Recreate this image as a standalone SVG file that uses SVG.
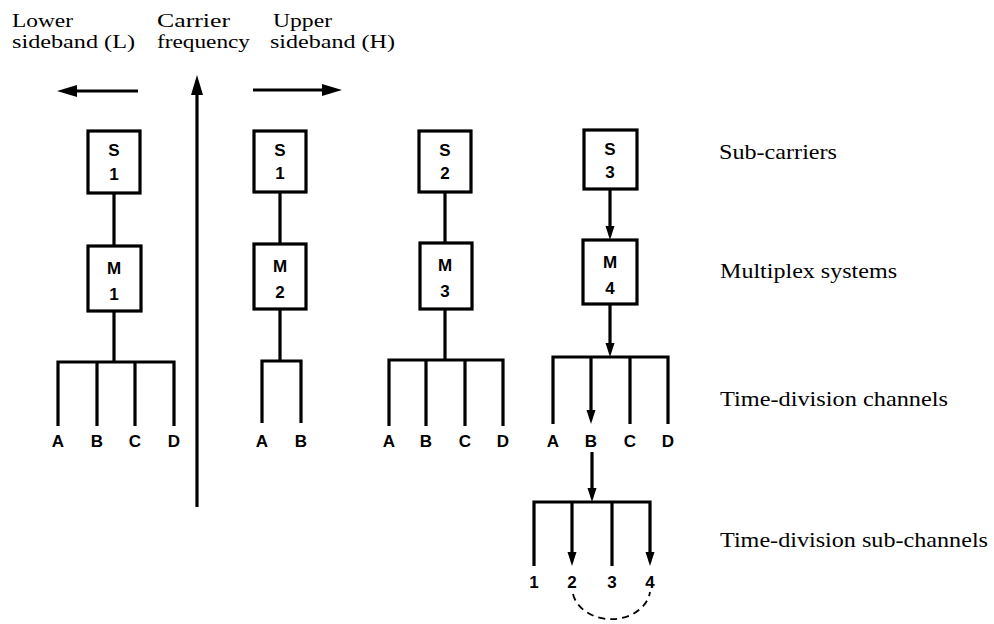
<svg xmlns="http://www.w3.org/2000/svg" width="994" height="624" viewBox="0 0 994 624">
  <style>
    .ln { fill: none; stroke: #000; stroke-width: 3.2; stroke-linejoin: miter; }
    .dash { fill: none; stroke: #000; stroke-width: 1.8; stroke-dasharray: 7 5; }
    .box { fill: #fff; stroke: #000; stroke-width: 3.2; }
    .bl { font-family: "Liberation Sans", Arial, sans-serif; font-weight: bold; font-size: 17px; text-anchor: middle; fill: #000; }
    .hd { font-family: "Liberation Serif", "Times New Roman", serif; font-size: 19px; fill: #000; }
    .rl { font-family: "Liberation Serif", "Times New Roman", serif; font-size: 22px; fill: #000; }
  </style>
  <defs>
    <marker id="arr" markerUnits="userSpaceOnUse" markerWidth="16" markerHeight="10" refX="6" refY="5" orient="auto">
      <path d="M0,0.5 L14,5 L0,9.5 z" fill="#000"/>
    </marker>
    <marker id="big" markerUnits="userSpaceOnUse" markerWidth="22" markerHeight="14" refX="8" refY="7" orient="auto">
      <path d="M0,1 L20,7 L0,13 z" fill="#000"/>
    </marker>
  </defs>

  <rect width="994" height="624" fill="#fff"/>

  <!-- heading labels -->
  <g id="headings">
    <text class="hd" x="12" y="27" textLength="61" lengthAdjust="spacingAndGlyphs">Lower</text>
    <text class="hd" x="12" y="48" textLength="123" lengthAdjust="spacingAndGlyphs">sideband (L)</text>
    <text class="hd" x="157" y="27" textLength="73" lengthAdjust="spacingAndGlyphs">Carrier</text>
    <text class="hd" x="157" y="48" textLength="93" lengthAdjust="spacingAndGlyphs">frequency</text>
    <text class="hd" x="273" y="27" textLength="59" lengthAdjust="spacingAndGlyphs">Upper</text>
    <text class="hd" x="270" y="48" textLength="125" lengthAdjust="spacingAndGlyphs">sideband (H)</text>
  </g>

  <!-- row labels -->
  <g id="row-labels">
    <text class="rl" x="719" y="159" textLength="118" lengthAdjust="spacingAndGlyphs">Sub-carriers</text>
    <text class="rl" x="720" y="278" textLength="177" lengthAdjust="spacingAndGlyphs">Multiplex systems</text>
    <text class="rl" x="720" y="406" textLength="228" lengthAdjust="spacingAndGlyphs">Time-division channels</text>
    <text class="rl" x="720" y="547" textLength="268" lengthAdjust="spacingAndGlyphs">Time-division sub-channels</text>
  </g>

  <!-- connectors -->
  <g id="connectors">
    <!-- frequency axis arrows -->
    <line class="ln" x1="197" y1="507" x2="197" y2="87" marker-end="url(#big)"/>
    <line class="ln" x1="138" y1="91" x2="69" y2="91" marker-end="url(#big)"/>
    <line class="ln" x1="253" y1="90" x2="330" y2="90" marker-end="url(#big)"/>

    <!-- column 1 -->
    <line class="ln" x1="114" y1="193" x2="114" y2="246"/>
    <line class="ln" x1="114" y1="311" x2="114" y2="362"/>
    <path class="ln" d="M58,426 V362 H174 V426 M97,362 V426 M135,362 V426"/>

    <!-- column 2 -->
    <line class="ln" x1="280" y1="192" x2="280" y2="244"/>
    <line class="ln" x1="280" y1="309" x2="280" y2="361"/>
    <path class="ln" d="M262,423 V361 H301 V423"/>

    <!-- column 3 -->
    <line class="ln" x1="445" y1="192" x2="445" y2="243"/>
    <line class="ln" x1="445" y1="309" x2="445" y2="360"/>
    <path class="ln" d="M389,426 V360 H503 V426 M426,360 V426 M465,360 V426"/>

    <!-- column 4 -->
    <line class="ln" x1="610" y1="189" x2="610" y2="232" marker-end="url(#arr)"/>
    <line class="ln" x1="610" y1="304" x2="610" y2="349" marker-end="url(#arr)"/>
    <path class="ln" d="M553,424 V357 H668 V424 M630,357 V424"/>
    <line class="ln" x1="591" y1="357" x2="591" y2="416" marker-end="url(#arr)"/>

    <!-- sub-channels of B -->
    <line class="ln" x1="592" y1="452" x2="592" y2="494" marker-end="url(#arr)"/>
    <path class="ln" d="M534,566 V502 H650 V558" marker-end="url(#arr)"/>
    <line class="ln" x1="572" y1="502" x2="572" y2="558" marker-end="url(#arr)"/>
    <line class="ln" x1="612" y1="502" x2="612" y2="566"/>
    <path class="dash" d="M573,594 A39 31 0 0 0 650,592"/>
  </g>

  <!-- sub-carrier nodes -->
  <g id="s1-left"><rect class="box" x="88" y="131" width="52" height="62"/><text class="bl" x="114" y="156">S</text><text class="bl" x="114" y="180">1</text></g>
  <g id="s1-right"><rect class="box" x="254" y="131" width="52" height="61"/><text class="bl" x="280" y="156">S</text><text class="bl" x="280" y="179">1</text></g>
  <g id="s2"><rect class="box" x="419" y="131" width="52" height="61"/><text class="bl" x="445" y="156">S</text><text class="bl" x="445" y="179">2</text></g>
  <g id="s3"><rect class="box" x="584" y="130" width="53" height="59"/><text class="bl" x="610" y="155">S</text><text class="bl" x="610" y="178">3</text></g>

  <!-- multiplex nodes -->
  <g id="m1"><rect class="box" x="88" y="246" width="53" height="65"/><text class="bl" x="114" y="274">M</text><text class="bl" x="114" y="300">1</text></g>
  <g id="m2"><rect class="box" x="254" y="244" width="52" height="65"/><text class="bl" x="280" y="272">M</text><text class="bl" x="280" y="298">2</text></g>
  <g id="m3"><rect class="box" x="420" y="243" width="52" height="66"/><text class="bl" x="445" y="271">M</text><text class="bl" x="445" y="297">3</text></g>
  <g id="m4"><rect class="box" x="583" y="240" width="54" height="64"/><text class="bl" x="610" y="268">M</text><text class="bl" x="610" y="294">4</text></g>

  <!-- channel labels -->
  <g id="channel-labels">
    <text class="bl" x="58" y="447">A</text><text class="bl" x="97" y="447">B</text><text class="bl" x="135" y="447">C</text><text class="bl" x="174" y="447">D</text>
    <text class="bl" x="262" y="447">A</text><text class="bl" x="301" y="447">B</text>
    <text class="bl" x="389" y="447">A</text><text class="bl" x="426" y="447">B</text><text class="bl" x="465" y="447">C</text><text class="bl" x="503" y="447">D</text>
    <text class="bl" x="553" y="447">A</text><text class="bl" x="591" y="447">B</text><text class="bl" x="630" y="447">C</text><text class="bl" x="668" y="447">D</text>
  </g>
  <g id="subchannel-labels">
    <text class="bl" x="534" y="588">1</text><text class="bl" x="572" y="588">2</text><text class="bl" x="612" y="588">3</text><text class="bl" x="650" y="588">4</text>
  </g>
</svg>
